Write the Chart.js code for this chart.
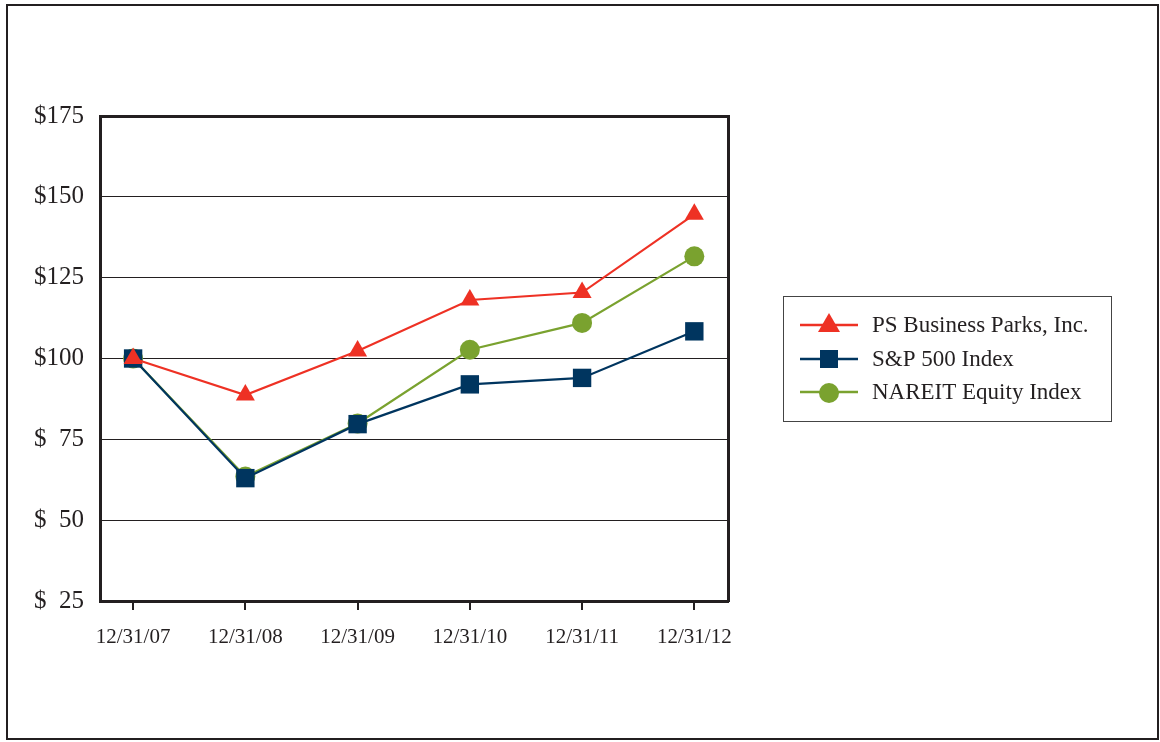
<!DOCTYPE html>
<html>
<head>
<meta charset="utf-8">
<script src="https://cdn.jsdelivr.net/npm/chart.js@4"></script>
<style>
  body { margin: 0; background: #fff; }
  #frame {
    position: absolute; left: 6px; top: 4px; width: 1153px; height: 736px;
    box-sizing: border-box; border: 2px solid #231f20;
  }
  canvas { position: absolute; left: 0; top: 0; }
</style>
</head>
<body>
<div id="frame"></div>
<canvas id="perfChart" width="1160" height="742"></canvas>
<script>
// categories and series
const dates = ['12/31/07', '12/31/08', '12/31/09', '12/31/10', '12/31/11', '12/31/12'];
const psBusinessParks = [100, 88.7, 102.3, 118.1, 120.4, 144.6];
const sp500 = [100, 63.0, 79.7, 92.0, 94.0, 108.4];
const nareit = [100, 63.5, 79.9, 102.7, 111.0, 131.6];
const yTicks = [25, 50, 75, 100, 125, 150, 175];

const serif = '"Liberation Serif", "DejaVu Serif", serif';
const ink = '#231f20';

const toPoints = arr => arr.map((v, i) => ({ x: i, y: v }));

// legend with line + marker inside a box, drawn next to the plot
const boxLegend = {
    id: 'boxLegend',
    afterDraw(chart) {
        const c = chart.ctx;
        c.save();
        c.strokeStyle = '#444';
        c.lineWidth = 1;
        c.strokeRect(783.5, 296.5, 328, 125);
        const rows = [325, 359, 392];
        chart.data.datasets.forEach((ds, i) => {
            const y = rows[i];
            c.strokeStyle = ds.borderColor;
            c.lineWidth = 2.5;
            c.beginPath();
            c.moveTo(800, y);
            c.lineTo(858, y);
            c.stroke();
            c.fillStyle = ds.borderColor;
            c.beginPath();
            if (ds.pointStyle === 'triangle') {
                c.moveTo(829, y - 12);
                c.lineTo(840, y + 7);
                c.lineTo(818, y + 7);
                c.closePath();
            } else if (ds.pointStyle === 'rect') {
                c.rect(820, y - 9, 18, 18);
            } else {
                c.arc(829, y + 1, 10, 0, Math.PI * 2);
            }
            c.fill();
            c.fillStyle = ink;
            c.font = '23px ' + serif;
            c.textBaseline = 'middle';
            c.fillText(ds.label, 872, y + 1);
        });
        c.restore();
    }
};

const ctx = document.getElementById('perfChart').getContext('2d');
const perfChart = new Chart(ctx, {
    type: 'line',
    data: {
        datasets: [{
            label: 'PS Business Parks, Inc.',
            data: toPoints(psBusinessParks),
            borderColor: '#ee3124',
            backgroundColor: '#ee3124',
            borderWidth: 2.2,
            pointStyle: 'triangle',
            pointRadius: 11,
            pointBorderWidth: 0
        }, {
            label: 'S&P 500 Index',
            data: toPoints(sp500),
            borderColor: '#00355f',
            backgroundColor: '#00355f',
            borderWidth: 2.2,
            pointStyle: 'rect',
            pointRadius: 13,
            pointBorderWidth: 0
        }, {
            label: 'NAREIT Equity Index',
            data: toPoints(nareit),
            borderColor: '#7aa22f',
            backgroundColor: '#7aa22f',
            borderWidth: 2.2,
            pointStyle: 'circle',
            pointRadius: 10,
            pointBorderWidth: 0
        }]
    },
    options: {
        responsive: false,
        animation: false,
        layout: { padding: { left: 0, top: 116, right: 432, bottom: 81 } },
        plugins: {
            legend: { display: false },
            tooltip: { enabled: false }
        },
        scales: {
            x: {
                type: 'linear',
                min: -0.295,
                max: 5.3,
                afterBuildTicks: axis => { axis.ticks = dates.map((d, i) => ({ value: i })); },
                afterFit: axis => { axis.height = 60; },
                border: { color: ink, width: 3 },
                grid: { drawOnChartArea: false, drawTicks: true, tickLength: 9, tickColor: ink, lineWidth: 2 },
                ticks: {
                    callback: v => dates[v],
                    color: ink,
                    font: { family: serif, size: 21 },
                    padding: 15,
                    maxRotation: 0
                }
            },
            y: {
                min: 25,
                max: 175,
                afterBuildTicks: axis => { axis.ticks = yTicks.map(v => ({ value: v })); },
                afterFit: axis => { axis.width = 100; },
                border: { color: ink, width: 3 },
                grid: {
                    color: ink,
                    drawTicks: false,
                    lineWidth: c => (c.tick && c.tick.value === 175 ? 3 : 1)
                },
                ticks: {
                    callback: v => (v < 100 ? '$  ' + v : '$' + v),
                    color: ink,
                    font: { family: serif, size: 25 },
                    padding: 16
                }
            },
            yRight: {
                position: 'right',
                display: true,
                min: 25,
                max: 175,
                afterFit: axis => { axis.width = 0; },
                border: { color: ink, width: 3 },
                grid: { drawOnChartArea: false, drawTicks: false },
                ticks: { display: false }
            }
        }
    },
    plugins: [boxLegend]
});
</script>
</body>
</html>
